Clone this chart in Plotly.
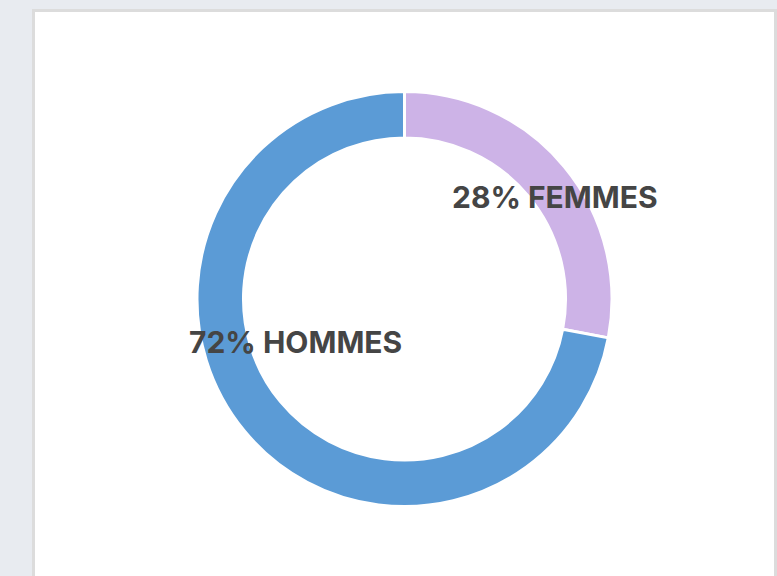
import plotly.graph_objects as go

labels = ["FEMMES", "HOMMES"]
values = [28, 72]
colors = ["#cdb3e7", "#5b9bd6"]

W, H = 777, 576
cx, cy, R = 404.5, 299, 207.5

fig = go.Figure(go.Pie(
    labels=labels,
    values=values,
    hole=0.776,
    sort=False,
    direction="clockwise",
    rotation=0,
    marker=dict(colors=colors, line=dict(color="white", width=3)),
    textinfo="none",
    hoverinfo="label+percent",
    showlegend=False,
    domain=dict(x=[(cx - R) / W, (cx + R) / W], y=[(H - cy - R) / H, (H - cy + R) / H]),
))

total = sum(values)
label_pos = [(554.5, 197), (295, 342)]
for lab, v, (x, y) in zip(labels, values, label_pos):
    fig.add_annotation(
        x=x / W, y=1 - y / H, xref="paper", yref="paper",
        text=f"<b>{round(100 * v / total)}% {lab}</b>", showarrow=False,
        font=dict(family="Inter, Lato, sans-serif", size=30, color="#454545"),
        xanchor="center", yanchor="middle",
    )

fig.add_shape(type="rect", xref="paper", yref="paper",
              x0=33.5 / W, x1=775.5 / W, y0=-0.05, y1=1 - 10.5 / H,
              line=dict(color="#dcdcdc", width=3), fillcolor="white", layer="below")

fig.update_layout(
    width=W, height=H,
    margin=dict(l=0, r=0, t=0, b=0),
    paper_bgcolor="#e8ebf0",
    plot_bgcolor="rgba(0,0,0,0)",
)
fig.write_html("out.html")
